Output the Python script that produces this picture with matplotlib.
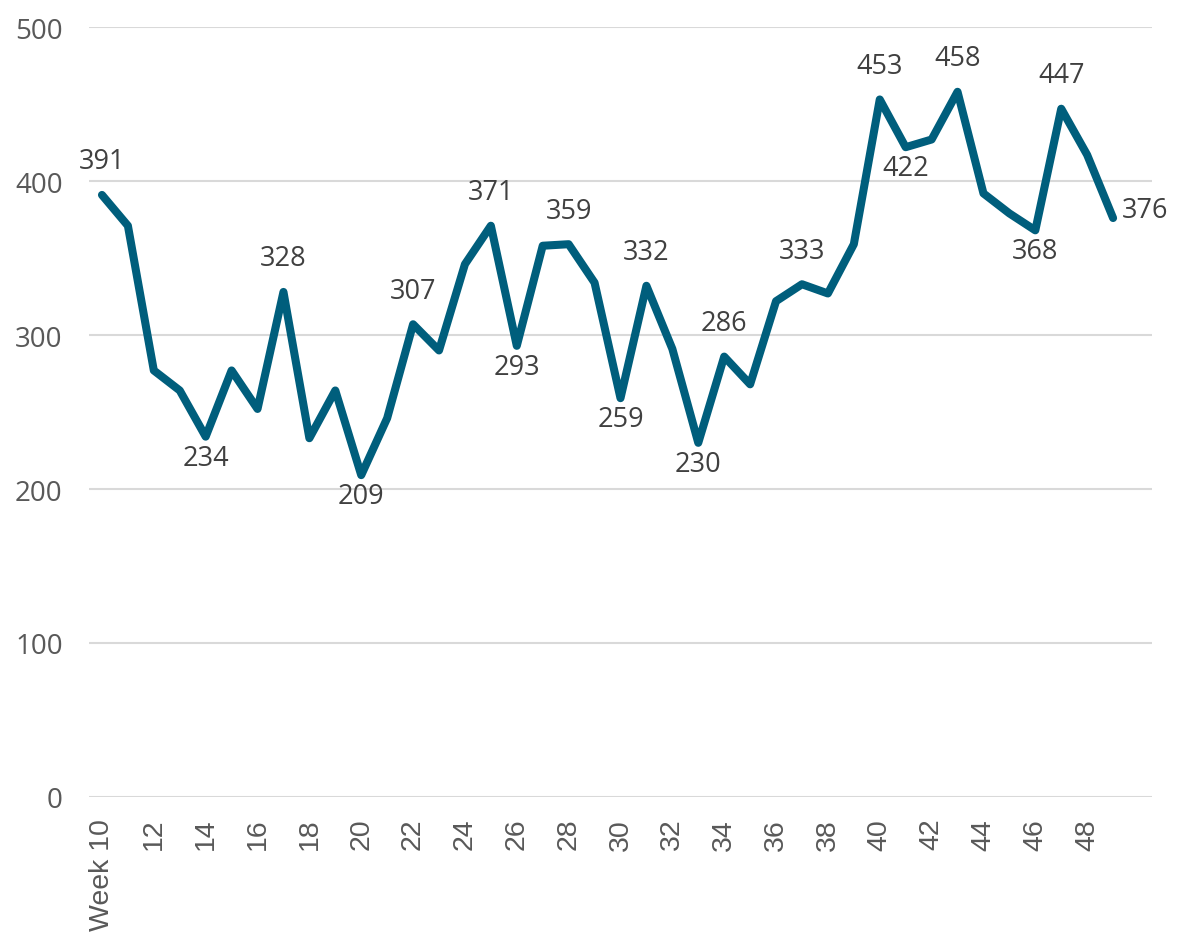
import matplotlib
matplotlib.use("Agg")
import matplotlib.pyplot as plt

weeks = list(range(10, 50))
values = [391, 371, 277, 264, 234, 277, 252, 328, 233, 264,
          209, 246, 307, 290, 346, 371, 293, 358, 359, 334,
          259, 332, 291, 230, 286, 268, 322, 333, 327, 359,
          453, 422, 427, 458, 392, 379, 368, 447, 417, 376]
# label placement: week -> position
label_pos = {10: "above", 14: "below", 17: "above", 20: "below", 22: "above",
             25: "above", 26: "below", 28: "above", 30: "below", 31: "above",
             33: "below", 34: "above", 37: "above", 40: "above", 41: "below",
             43: "above", 46: "below", 47: "above", 49: "right"}
tick_weeks = list(range(10, 50, 2))
tick_labels = ["Week 10"] + [str(w) for w in tick_weeks[1:]]
yticks = [0, 100, 200, 300, 400, 500]

line_color = "#005E7C"
text_color = "#404040"
label_font = "Open Sans"

fig = plt.figure(figsize=(11.82, 9.37), dpi=100)
ax = fig.add_axes([0.0753, 0.1484, 0.8993, 0.8216])

ax.plot(weeks, values, color=line_color, linewidth=5.8, solid_joinstyle="round",
        solid_capstyle="round", zorder=3)

for w, v in zip(weeks, values):
    if w not in label_pos:
        continue
    pos = label_pos[w]
    if pos == "above":
        ax.annotate(str(v), (w, v), xytext=(0, 14), textcoords="offset points",
                    ha="center", va="bottom", fontsize=19.5, color=text_color,
                    family=label_font)
    elif pos == "below":
        ax.annotate(str(v), (w, v), xytext=(0, -5), textcoords="offset points",
                    ha="center", va="top", fontsize=19.5, color=text_color,
                    family=label_font)
    else:
        ax.annotate(str(v), (w, v), xytext=(6, 6), textcoords="offset points",
                    ha="left", va="center", fontsize=19.5, color=text_color,
                    family=label_font)

ax.set_xlim(9.5, 50.5)
ax.set_ylim(0, 500)
ax.set_yticks(yticks)
ax.set_yticklabels([str(y) for y in yticks], fontsize=20, color="#595959",
                   family=label_font)
ax.set_xticks(tick_weeks)
ax.set_xticklabels(tick_labels, rotation=90, fontsize=20.5, color="#595959",
                   family="Liberation Sans")
ax.tick_params(axis="both", length=0)
ax.tick_params(axis="y", pad=19)
ax.tick_params(axis="x", pad=15)
ax.grid(axis="y", color="#D9D9D9", linewidth=1.5, zorder=0)
for s in ax.spines.values():
    s.set_visible(False)

fig.savefig("out.png", dpi=100)
